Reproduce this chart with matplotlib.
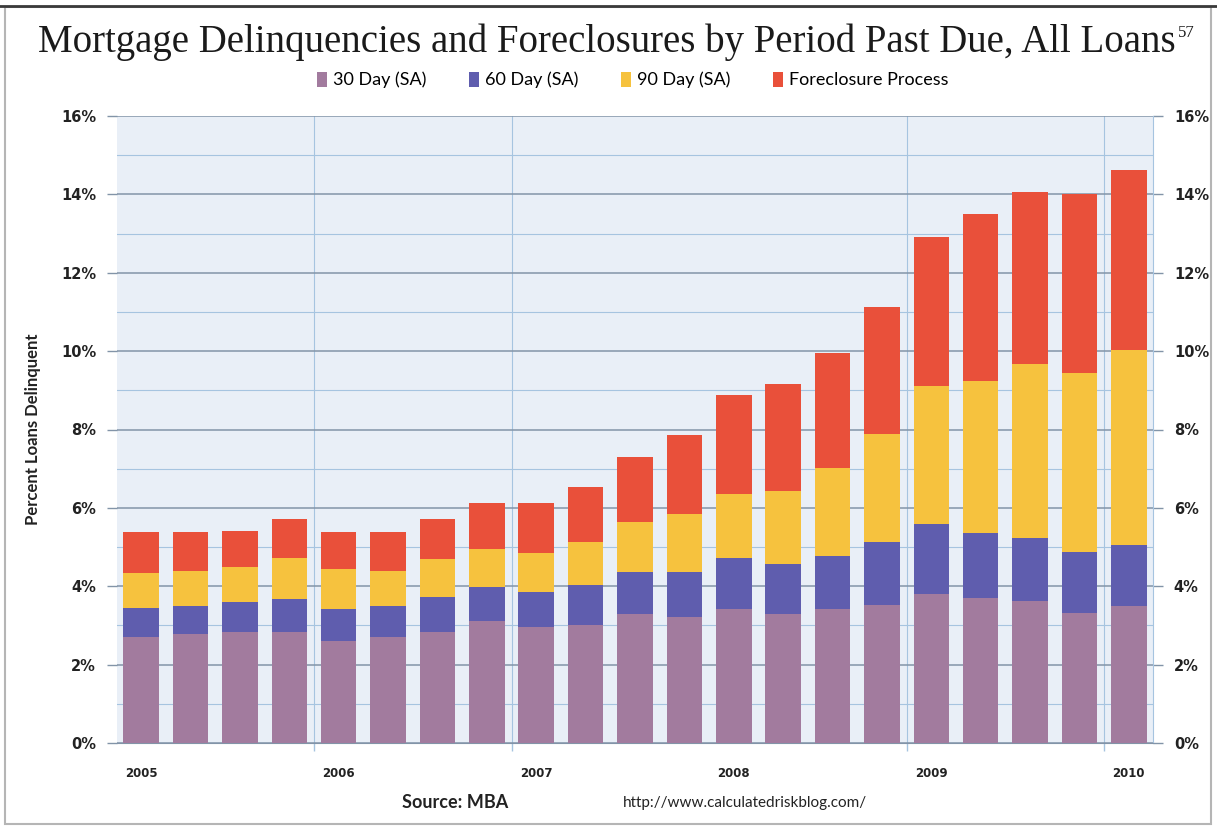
import matplotlib

matplotlib.use("Agg")
import matplotlib.pyplot as plt
import numpy as np
from matplotlib.lines import Line2D
from matplotlib.patches import Patch, Rectangle

# Quarterly data, 2005 Q1 .. 2010 Q1 (percent of loans)
quarters = [f"{y}Q{q}" for y in range(2005, 2011) for q in range(1, 5)][:21]
day30 = [2.71, 2.77, 2.83, 2.83, 2.61, 2.71, 2.83, 3.11, 2.95, 3.00, 3.30,
         3.21, 3.42, 3.30, 3.42, 3.52, 3.80, 3.69, 3.62, 3.32, 3.50]
day60 = [0.73, 0.73, 0.78, 0.85, 0.80, 0.79, 0.90, 0.87, 0.90, 1.02, 1.07,
         1.16, 1.29, 1.28, 1.34, 1.60, 1.78, 1.67, 1.62, 1.55, 1.54]
day90 = [0.90, 0.90, 0.87, 1.04, 1.03, 0.90, 0.97, 0.97, 1.01, 1.10, 1.26,
         1.48, 1.65, 1.84, 2.25, 2.77, 3.52, 3.87, 4.42, 4.57, 5.00]
foreclosure = [1.04, 0.98, 0.93, 1.00, 0.94, 0.98, 1.02, 1.18, 1.26, 1.41, 1.67,
               2.01, 2.51, 2.74, 2.94, 3.24, 3.82, 4.27, 4.41, 4.57, 4.59]

series_names = ["30 Day (SA)", "60 Day (SA)", "90 Day (SA)", "Foreclosure Process"]
year_labels = ["2005", "2006", "2007", "2008", "2009", "2010"]
year_boundaries = [3.5, 7.5, 15.5, 19.5]  # vertical lines drawn in the source chart

COLORS = ["#A27B9E", "#5F5DAE", "#F6C23E", "#E9503A"]
BG = "#E9EFF7"
MAJOR = "#8294A8"
MINOR = "#A6C4E0"
INK = "#222222"

W, H = 1217, 827
fig = plt.figure(figsize=(W / 100, H / 100), dpi=100, facecolor="white")

# frame around the figure
fig.add_artist(Rectangle((5 / W, 0.004), 1 - 11 / W, 1 - 7 / H - 0.004,
                         transform=fig.transFigure, fill=False,
                         edgecolor="#B5B5B5", lw=1.5))
fig.add_artist(Line2D([0, 1], [1 - 6 / H, 1 - 6 / H], transform=fig.transFigure,
                      color="#3A3A3A", lw=2))

ax = fig.add_axes([117 / W, 1 - 743 / H, (1153 - 117) / W, (743 - 116) / H])
ax.set_facecolor(BG)

x = np.arange(len(quarters))
bottom = np.zeros(len(quarters))
for vals, col in zip([day30, day60, day90, foreclosure], COLORS):
    ax.bar(x, vals, width=0.72, bottom=bottom, color=col, linewidth=0, zorder=3)
    bottom += np.array(vals)

ax.set_xlim(-0.49, 20.49)
ax.set_ylim(0, 16)

# y axis: major every 2%, minor on odd values
ax.set_yticks(np.arange(0, 17, 2))
ax.set_yticks(np.arange(1, 16, 2), minor=True)
ax.set_yticklabels([f"{v}%" for v in range(0, 17, 2)])
ax.tick_params(axis="y", which="major", length=7, width=1, color=MAJOR,
               labelsize=10.5, labelcolor=INK, left=True, right=True,
               labelleft=True, labelright=True, pad=8)
ax.tick_params(axis="y", which="minor", length=0)
for lab in ax.get_yticklabels():
    lab.set_fontweight("bold")
ax.grid(True, axis="y", which="major", color=MAJOR, lw=1.1, zorder=1)
ax.grid(True, axis="y", which="minor", color=MINOR, lw=0.8, zorder=1)

# x axis: year labels under Q1 bars, tick marks at year boundaries
ax.set_xticks(x[::4])
ax.set_xticklabels(year_labels, fontweight="bold", fontsize=8.5, color=INK)
ax.tick_params(axis="x", which="major", length=0, pad=17)
ax.set_xticks(year_boundaries, minor=True)
ax.tick_params(axis="x", which="minor", length=6, color=MINOR, width=1)
ax.grid(True, axis="x", which="minor", color=MINOR, lw=0.8, zorder=1)

for side in ["top", "left"]:
    ax.spines[side].set_visible(False)
ax.spines["bottom"].set_color(MAJOR)
ax.spines["right"].set_color(MINOR)

ax.set_ylabel("Percent Loans Delinquent", family="Lato", fontsize=12,
              fontweight="bold", color=INK, labelpad=14)

# title with superscript note marker
title = fig.text(0.499, 1 - 42 / H,
                 "Mortgage Delinquencies and Foreclosures by Period Past Due, All Loans",
                 ha="center", va="center", family="Liberation Serif",
                 fontsize=28, color="#1A1A1A")
ax.annotate("57", xy=(1.0, 1.0), xycoords=title, xytext=(1, -1),
            textcoords="offset points", ha="left", va="top",
            family="Liberation Serif", fontsize=12, color="#1A1A1A",
            annotation_clip=False)

handles = [Patch(facecolor=c, edgecolor="none") for c in COLORS]
fig.legend(handles, series_names, loc="center", bbox_to_anchor=(0.52, 1 - 80 / H),
           ncol=4, frameon=False, handlelength=0.55, handleheight=0.9,
           handletextpad=0.3, columnspacing=2.4,
           prop={"family": "Lato", "size": 13})

fig.text(455 / W, 1 - 803 / H, "Source: MBA", ha="center", va="center",
         family="Lato", fontsize=13, fontweight="bold", color=INK)
fig.text(745 / W, 1 - 803 / H, "http://www.calculatedriskblog.com/", ha="center",
         va="center", family="Lato", fontsize=11, color=INK)

fig.savefig("out.png", dpi=100, facecolor="white")
